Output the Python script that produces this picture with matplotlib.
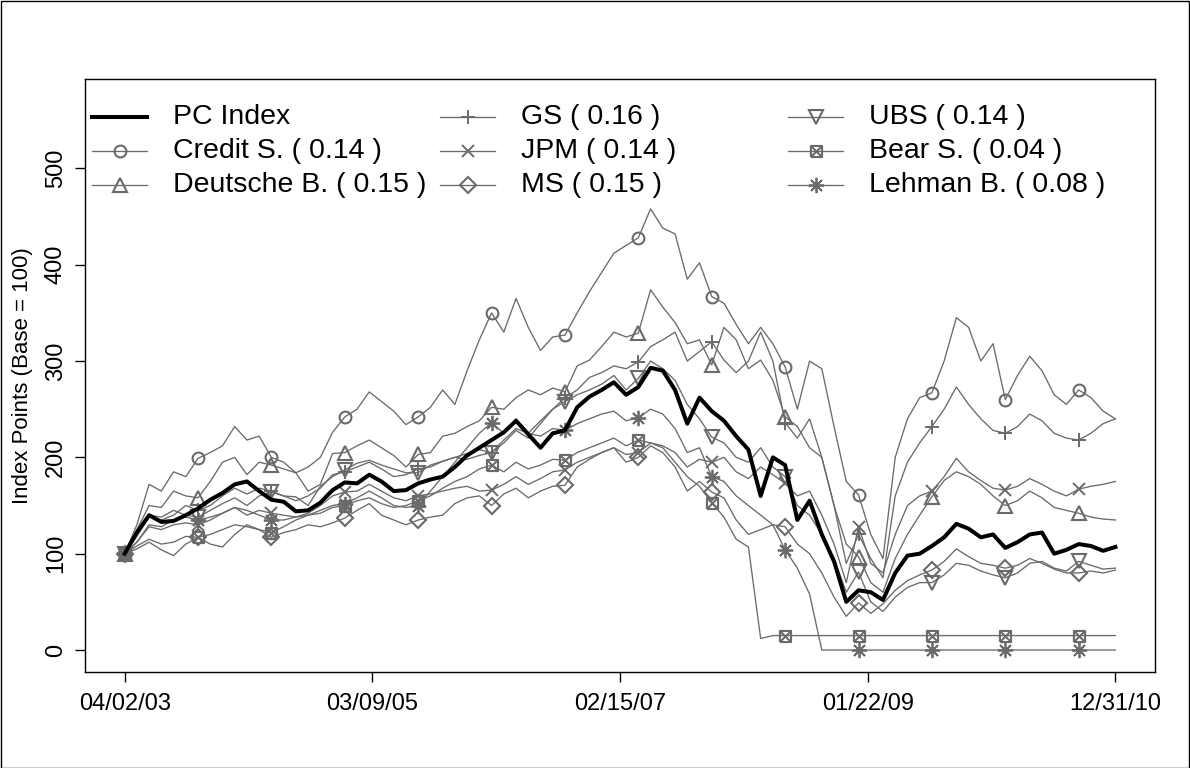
import matplotlib
matplotlib.use("Agg")
import matplotlib.pyplot as plt
from matplotlib.lines import Line2D
from matplotlib.path import Path
from matplotlib.patches import Rectangle
import numpy as np

plt.rcParams["font.family"] = ["Liberation Sans", "DejaVu Sans"]

# ---- data (index points, base = 100), one value per sampled trading day ----
date_labels = ["04/02/03", "03/09/05", "02/15/07", "01/22/09", "12/31/10"]
names = ["Credit S.", "Deutsche B.", "GS", "JPM", "MS", "UBS", "Bear S.", "Lehman B."]
weights = [0.14, 0.15, 0.16, 0.14, 0.15, 0.14, 0.04, 0.08]

pc_index = [100, 122, 140, 133, 134, 140, 147, 156, 163, 172,
            175, 165, 156, 154, 144, 145, 153, 166, 174, 173,
            182, 175, 165, 166, 173, 177, 180, 190, 202, 210,
            218, 226, 238, 224, 210, 225, 228, 252, 263, 270,
            278, 265, 273, 293, 290, 270, 235, 262, 248, 238,
            222, 208, 160, 200, 192, 135, 155, 120, 92, 50,
            62, 60, 52, 80, 98, 100, 108, 117, 131, 126,
            117, 120, 106, 112, 120, 122, 100, 104, 110, 108,
            103, 107]

credit_s = [100, 130, 172, 165, 185, 180, 199, 205, 212, 232,
            218, 222, 200, 195, 184, 190, 200, 226, 242, 250,
            268, 258, 248, 234, 242, 252, 270, 255, 290, 322,
            350, 330, 365, 335, 311, 325, 327, 350, 372, 392,
            412, 420, 428, 458, 438, 432, 385, 402, 367, 360,
            338, 318, 335, 318, 294, 250, 300, 292, 232, 175,
            161, 120, 95, 200, 240, 262, 267, 300, 345, 335,
            300, 318, 260, 285, 305, 290, 265, 255, 270, 262,
            248, 240]

deutsche_b = [100, 125, 150, 148, 165, 160, 158, 175, 195, 200,
              182, 195, 192, 188, 184, 165, 172, 204, 205, 212,
              218, 210, 202, 190, 203, 205, 222, 225, 232, 238,
              252, 250, 262, 270, 265, 272, 268, 295, 301, 315,
              330, 325, 329, 374, 356, 340, 318, 322, 296, 335,
              322, 292, 301, 280, 242, 232, 210, 200, 150, 110,
              97, 70, 60, 95, 120, 140, 159, 176, 185, 180,
              172, 160, 150, 155, 165, 158, 148, 145, 142, 138,
              136, 135]

gs = [100, 118, 138, 135, 140, 150, 145, 150, 160, 168,
      162, 168, 165, 160, 155, 160, 168, 182, 185, 190,
      195, 188, 180, 182, 188, 190, 196, 200, 198, 202,
      205, 215, 228, 220, 235, 250, 262, 270, 283, 288,
      295, 292, 299, 315, 322, 330, 300, 310, 320, 301,
      288, 300, 330, 300, 236, 220, 240, 200, 150, 90,
      120, 95, 75, 160, 195, 215, 232, 250, 273, 255,
      240, 228, 225, 232, 245, 238, 225, 220, 218, 225,
      235, 240]

jpm = [100, 112, 128, 125, 130, 132, 130, 135, 142, 148,
       140, 145, 142, 140, 138, 142, 150, 160, 164, 165,
       172, 165, 158, 155, 160, 162, 165, 168, 170, 165,
       166, 172, 180, 172, 178, 185, 187, 195, 200, 205,
       210, 203, 205, 215, 212, 205, 190, 198, 195, 200,
       185, 178, 190, 182, 173, 160, 165, 140, 110, 70,
       128, 90, 80, 120, 150, 160, 165, 180, 199, 185,
       176, 168, 166, 170, 178, 172, 165, 160, 167, 170,
       172, 175]

ms = [100, 105, 112, 104, 98, 110, 117, 110, 107, 120,
      130, 125, 117, 122, 125, 130, 128, 132, 137, 145,
      152, 140, 135, 130, 135, 138, 140, 152, 158, 160,
      150, 162, 168, 158, 165, 170, 171, 190, 198, 205,
      210, 195, 200, 212, 205, 190, 165, 175, 164, 158,
      135, 120, 125, 130, 128, 110, 100, 80, 55, 35,
      49, 38, 48, 62, 72, 78, 83, 92, 105, 97,
      90, 88, 85, 88, 95, 90, 84, 80, 80, 82,
      80, 83]

ubs = [100, 120, 140, 138, 145, 140, 138, 145, 152, 158,
       150, 160, 164, 160, 159, 150, 170, 180, 187, 194,
       197, 192, 188, 184, 184, 192, 196, 200, 204, 208,
       205, 218, 230, 225, 238, 250, 258, 265, 270, 276,
       285, 270, 282, 300, 292, 280, 255, 240, 221, 215,
       200, 195, 210, 190, 180, 150, 140, 120, 95, 60,
       81, 50, 40, 55, 65, 70, 70, 78, 90, 88,
       82, 78, 75, 80, 90, 92, 85, 82, 92, 88,
       84, 85]

bear_s = [100, 108, 115, 110, 112, 118, 117, 120, 125, 130,
          128, 125, 122, 128, 135, 140, 142, 148, 150, 155,
          158, 152, 148, 150, 155, 160, 168, 175, 180, 188,
          192, 185, 195, 188, 192, 198, 197, 205, 210, 215,
          220, 212, 218, 215, 210, 195, 180, 170, 153, 138,
          115, 107, 12, 15, 15, 15, 15, 15, 15, 15,
          15, 15, 15, 15, 15, 15, 15, 15, 15, 15,
          15, 15, 15, 15, 15, 15, 15, 15, 15, 15,
          15, 15]

lehman_b = [100, 112, 130, 128, 135, 138, 135, 138, 142, 148,
            145, 140, 135, 135, 138, 140, 145, 150, 152, 158,
            165, 158, 150, 148, 150, 165, 180, 195, 210, 225,
            236, 225, 240, 225, 222, 230, 228, 235, 240, 245,
            248, 238, 241, 250, 245, 230, 205, 210, 180, 175,
            160, 150, 140, 130, 104, 85, 58, 0, 0, 0,
            0, 0, 0, 0, 0, 0, 0, 0, 0, 0,
            0, 0, 0, 0, 0, 0, 0, 0, 0, 0,
            0, 0]

banks = [credit_s, deutsche_b, gs, jpm, ms, ubs, bear_s, lehman_b]

# ---- styling ----
GREY = "#6a6a6a"
W, H = 1190, 768

box_x = Path([(-1, -1), (1, -1), (1, 1), (-1, 1), (-1, -1),
              (-1, -1), (1, 1), (-1, 1), (1, -1)],
             [Path.MOVETO, Path.LINETO, Path.LINETO, Path.LINETO, Path.LINETO,
              Path.MOVETO, Path.LINETO, Path.MOVETO, Path.LINETO])
markers = ["o", "^", "+", "x", "D", "v", box_x, (8, 2, 0)]
msizes = [8.5, 9.5, 10.5, 8.5, 8.5, 9.5, 8, 11]
mwidths = [1.5, 1.5, 1.4, 1.4, 1.5, 1.5, 1.5, 1.3]

fig = plt.figure(figsize=(W / 100, H / 100), dpi=100)
fig.patch.set_facecolor("white")
ax = fig.add_axes([85 / W, 96 / H, 1070 / W, 593 / H])

n = len(pc_index)
t = np.arange(n)

for vals, mk, msz, mw in zip(banks, markers, msizes, mwidths):
    ax.plot(t, vals, color=GREY, lw=0.95, marker=mk, markevery=6, ms=msz,
            mfc="none", mec=GREY, mew=mw, zorder=2)
ax.plot(t, pc_index, color="black", lw=2.9, zorder=3)

ax.set_xlim(-0.04 * (n - 1), (n - 1) * 1.04)
ax.set_ylim(-22.8, 592.8)
ax.set_xticks(np.linspace(0, n - 1, 5))
ax.set_xticklabels(date_labels)
ax.set_yticks([0, 100, 200, 300, 400, 500])
ax.tick_params(axis="both", direction="out", length=7, width=1, labelsize=17,
               colors="black")
ax.tick_params(axis="x", pad=8)
ax.tick_params(axis="y", pad=6, labelrotation=90)
for lab in ax.get_yticklabels():
    lab.set_va("center")
for sp in ax.spines.values():
    sp.set_linewidth(1)
    sp.set_color("black")

ax.set_ylabel("Index Points (Base = 100)", fontsize=16)
ax.yaxis.set_label_coords((33 - 85) / 1070, 0.5)

# ---- legend, three columns ----
labels = ["PC Index"] + [f"{nm} ( {w:.2f} )" for nm, w in zip(names, weights)]
col_x = [92, 440, 788]
row_y = [117, 151, 185]
for k, lab in enumerate(labels):
    c, r = divmod(k, 3)
    x0 = col_x[c] / W
    x1 = (col_x[c] + 55) / W
    y = 1 - row_y[r] / H
    if k == 0:
        fig.add_artist(Line2D([x0, x1], [y, y], transform=fig.transFigure,
                              color="black", lw=2.9))
    else:
        fig.add_artist(Line2D([x0, (x0 + x1) / 2, x1], [y, y, y],
                              transform=fig.transFigure, color=GREY, lw=0.95,
                              marker=markers[k - 1], markevery=[1],
                              ms=msizes[k - 1], mfc="none", mec=GREY,
                              mew=mwidths[k - 1]))
    fig.text((col_x[c] + 81) / W, y, lab, fontsize=20.5, va="center", ha="left")

# outer frame
fig.add_artist(Rectangle((0.5 / W, 0.5 / H), 1 - 1.5 / W, 1 - 1.5 / H,
                         transform=fig.transFigure, fill=False,
                         edgecolor="black", lw=1))

fig.savefig("out.png", dpi=100)
